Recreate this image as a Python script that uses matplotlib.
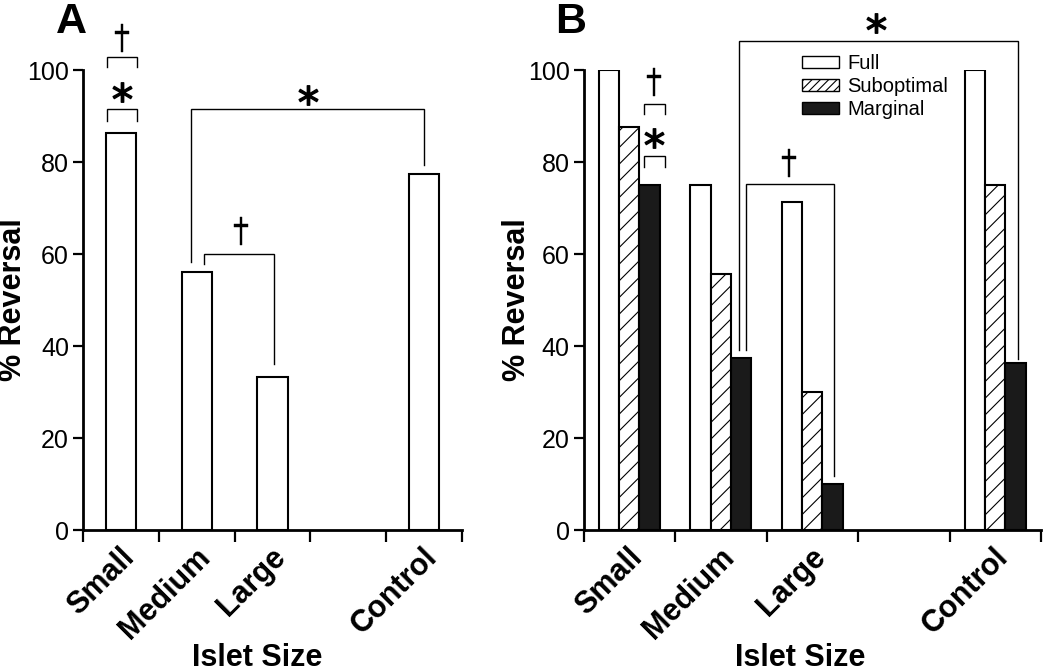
import matplotlib
matplotlib.use("Agg")
import matplotlib.pyplot as plt
from matplotlib.patches import Patch
from matplotlib.transforms import ScaledTranslation
import numpy as np

plt.rcParams['font.family'] = ['Liberation Sans', 'DejaVu Sans']
plt.rcParams['hatch.linewidth'] = 0.8

# Data
categories = ['Small', 'Medium', 'Large', '', 'Control']
pct_a = [86.4, 56.0, 33.3, np.nan, 77.3]

series_b = ['Full', 'Suboptimal', 'Marginal']
full_b = [100.0, 75.0, 71.4, np.nan, 100.0]
subopt_b = [87.5, 55.6, 30.0, np.nan, 75.0]
marginal_b = [75.0, 37.5, 10.0, np.nan, 36.4]

yticks = [0, 20, 40, 60, 80, 100]

# significance brackets: (x_left, x_right, level, leg_left, leg_right, symbol, sym_x, sym_y)
brackets_a = [
    (0.32, 0.71, 91.5, 89.0, 89.0, '*', 0.51, 95.2),
    (0.32, 0.71, 102.8, 100.7, 100.7, '†', 0.51, 107.0),
    (1.42, 4.50, 91.5, 58.3, 79.3, '*', 2.97, 94.6),
    (1.59, 2.52, 60.1, 57.8, 36.0, '†', 2.08, 65.0),
]
brackets_b = [
    (0.66, 0.89, 81.2, 79.0, 79.0, '*', 0.77, 85.2),
    (0.66, 0.89, 92.6, 90.4, 90.4, '†', 0.77, 97.4),
    (1.78, 2.74, 75.2, 39.1, 11.8, '†', 2.25, 79.8),
    (1.70, 4.75, 106.4, 39.1, 37.2, '*', 3.20, 110.2),
]

W, H = 1050, 671
fig = plt.figure(figsize=(W / 100, H / 100), dpi=100)

def px_axes(x0, x1, ytop, ybot):
    return fig.add_axes([x0 / W, 1 - ybot / H, (x1 - x0) / W, (ybot - ytop) / H])

ax_a = px_axes(83, 462, 70, 530)
ax_b = px_axes(583.5, 1041, 70, 530)

def style_axes(ax):
    ax.set_xlim(0, 5)
    ax.set_ylim(0, 100)
    for s in ['top', 'right']:
        ax.spines[s].set_visible(False)
    for s in ['left', 'bottom']:
        ax.spines[s].set_linewidth(2.0)
    ax.set_yticks(yticks)
    ax.tick_params(axis='y', labelsize=18, length=7, width=1.6, pad=3)
    ax.set_xticks(np.arange(6))
    ax.set_xticklabels([])
    ax.tick_params(axis='x', which='major', length=8.5, width=1.6)
    ax.set_xticks(np.arange(5) + 0.5, minor=True)
    ax.set_xticklabels(categories, minor=True, fontsize=22, fontweight='bold')
    ax.tick_params(axis='x', which='minor', length=0, pad=20)
    shift = ScaledTranslation(0.09, 0.05, fig.dpi_scale_trans)
    for lab in ax.get_xticklabels(minor=True):
        lab.set_rotation(45)
        lab.set_ha('right')
        lab.set_va('center')
        lab.set_rotation_mode('anchor')
        lab.set_transform(lab.get_transform() + shift)

def draw_brackets(ax, brackets):
    for xl, xr, lev, ll, lr, sym, sx, sy in brackets:
        ax.plot([xl, xl, xr, xr], [ll, lev, lev, lr], color='black', lw=1.0,
                clip_on=False, solid_joinstyle='miter')
        if sym == '*':
            ax.plot(sx, sy, marker='$*$', ms=14, color='black', clip_on=False)
        else:
            ax.plot(sx, sy, marker=r'$\dagger$', ms=20, color='black',
                    clip_on=False, markeredgewidth=0.3)

# Panel A
x = np.arange(5) + 0.5
ax_a.bar(x, pct_a, width=0.4, color='white', edgecolor='black', linewidth=1.5, zorder=3)
style_axes(ax_a)
draw_brackets(ax_a, brackets_a)

# Panel B
bw = 0.224
ax_b.bar(x - bw, full_b, width=bw, color='white', edgecolor='black', linewidth=1.5,
         zorder=3, label=series_b[0])
ax_b.bar(x, subopt_b, width=bw, color='white', edgecolor='black', linewidth=1.5,
         hatch='//', zorder=3, label=series_b[1])
ax_b.bar(x + bw, marginal_b, width=bw, color='#1a1a1a', edgecolor='black', linewidth=1.5,
         zorder=3, label=series_b[2])
style_axes(ax_b)
draw_brackets(ax_b, brackets_b)

handles = [Patch(facecolor='white', edgecolor='black', linewidth=1.0),
           Patch(facecolor='white', edgecolor='black', linewidth=1.0, hatch='////'),
           Patch(facecolor='#1a1a1a', edgecolor='black', linewidth=1.0)]
ax_b.legend(handles, series_b, loc='upper left', bbox_to_anchor=(0.478, 1.034),
            frameon=False, fontsize=14.5, handlelength=1.85, handleheight=0.57,
            handletextpad=0.38, labelspacing=0.2, borderpad=0, borderaxespad=0)

# Axis titles and panel letters
fig.text(13 / W, 1 - 300 / H, '% Reversal', rotation=90, fontsize=22,
         fontweight='bold', ha='center', va='center')
fig.text(517 / W, 1 - 300 / H, '% Reversal', rotation=90, fontsize=22,
         fontweight='bold', ha='center', va='center')
fig.text(257.5 / W, 1 - 658 / H, 'Islet Size', fontsize=22, fontweight='bold',
         ha='center', va='center')
fig.text(800 / W, 1 - 658 / H, 'Islet Size', fontsize=22, fontweight='bold',
         ha='center', va='center')
fig.text(56 / W, 1 - 33 / H, 'A', fontsize=31, fontweight='bold', va='baseline')
fig.text(555 / W, 1 - 33 / H, 'B', fontsize=31, fontweight='bold', va='baseline')

plt.savefig('out.png', dpi=100)
plt.close()
